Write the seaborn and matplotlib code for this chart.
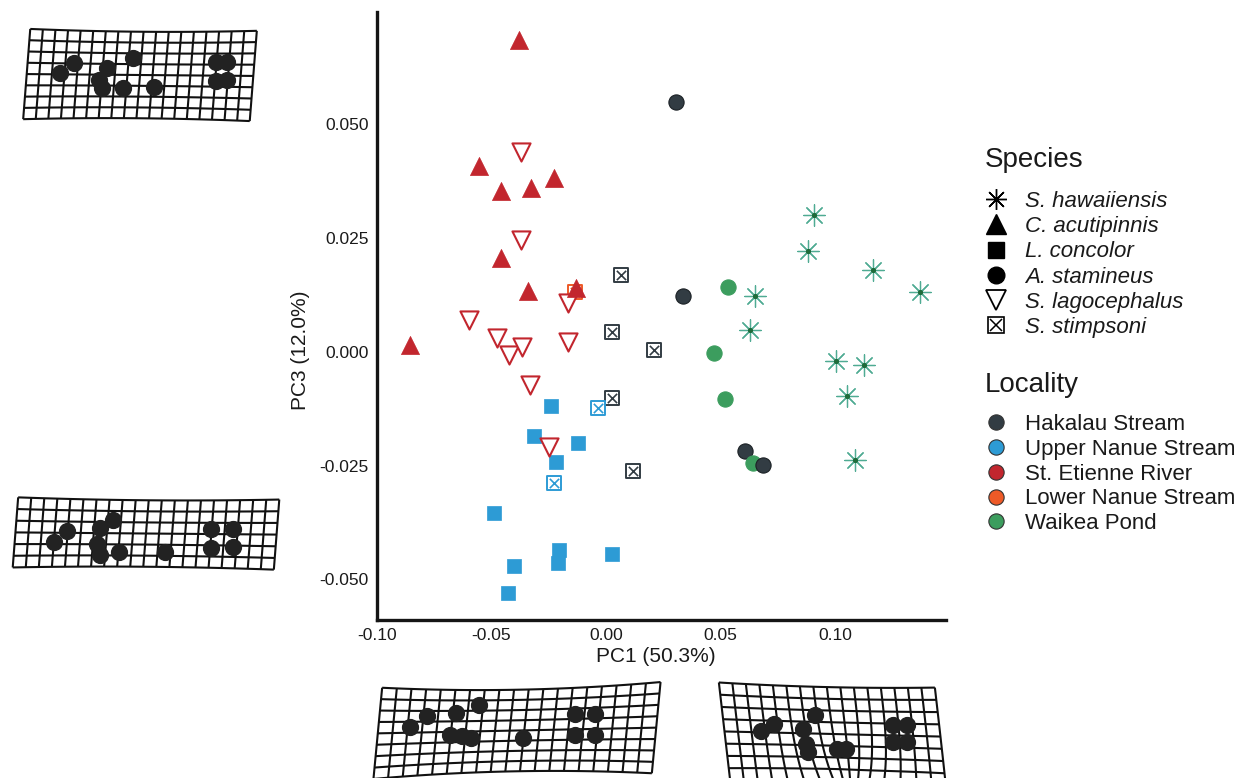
import numpy as np
import pandas as pd
import matplotlib.pyplot as plt
import seaborn as sns
from matplotlib.lines import Line2D

# PCA scores ----
pc1 = [0.0064, 0.0026, 0.0210, 0.0026, 0.0116, -0.0034, -0.0227, -0.0137,
       -0.0240, -0.0313, -0.0124, -0.0219, -0.0489, -0.0206, -0.0210, 0.0026, -0.0403, -0.0429,
       -0.0373, -0.0369, -0.0597, -0.0476, -0.0425, -0.0365, -0.0167, -0.0167, -0.0330, -0.0249,
       -0.0382, -0.0554, -0.0459, -0.0326, -0.0227, -0.0459, -0.0339, -0.0129, -0.0854,
       0.0305, 0.0335, 0.0532, 0.0472, 0.0519, 0.0609, 0.0644, 0.0687,
       0.0910, 0.0884, 0.1167, 0.0652, 0.1373, 0.0627, 0.1004, 0.1129, 0.1052, 0.1086]
pc3 = [0.0169, 0.0044, 0.0004, -0.0101, -0.0262, -0.0123, -0.0288, 0.0132,
       -0.0119, -0.0185, -0.0200, -0.0242, -0.0354, -0.0435, -0.0464, -0.0444, -0.0470, -0.0530,
       0.0440, 0.0246, 0.0070, 0.0031, -0.0007, 0.0011, 0.0108, 0.0022, -0.0073, -0.0209,
       0.0686, 0.0409, 0.0354, 0.0360, 0.0382, 0.0207, 0.0134, 0.0141, 0.0015,
       0.0549, 0.0123, 0.0143, -0.0002, -0.0103, -0.0218, -0.0244, -0.0248,
       0.0301, 0.0222, 0.0180, 0.0123, 0.0132, 0.0048, -0.0020, -0.0029, -0.0097, -0.0237]
species = (['S. stimpsoni'] * 8 + ['L. concolor'] * 10 + ['S. lagocephalus'] * 10
           + ['C. acutipinnis'] * 9 + ['A. stamineus'] * 8 + ['S. hawaiiensis'] * 10)
locality = (['Hakalau Stream'] * 5 + ['Upper Nanue Stream'] * 2 + ['Lower Nanue Stream']
            + ['Upper Nanue Stream'] * 10 + ['St. Etienne River'] * 10 + ['St. Etienne River'] * 9
            + ['Hakalau Stream', 'Hakalau Stream', 'Waikea Pond', 'Waikea Pond', 'Waikea Pond',
               'Hakalau Stream', 'Waikea Pond', 'Hakalau Stream']
            + ['Waikea Pond'] * 10)

species_order = ['S. hawaiiensis', 'C. acutipinnis', 'L. concolor',
                 'A. stamineus', 'S. lagocephalus', 'S. stimpsoni']
locality_order = ['Hakalau Stream', 'Upper Nanue Stream', 'St. Etienne River',
                  'Lower Nanue Stream', 'Waikea Pond']
loc_colors = ['#323c43', '#2d9bd5', '#c2262e', '#ee5a27', '#3c9d5e']
palette = dict(zip(locality_order, loc_colors))

# deformation grid landmarks (relative position inside each grid box)
grid1_u = [0.16, 0.22, 0.36, 0.47, 0.325, 0.34, 0.43, 0.56, 0.82, 0.87, 0.82, 0.87]
grid1_v = [0.52, 0.63, 0.57, 0.68, 0.45, 0.36, 0.36, 0.37, 0.64, 0.64, 0.44, 0.45]
grid2_u = [0.16, 0.21, 0.33, 0.38, 0.32, 0.33, 0.40, 0.57, 0.74, 0.82, 0.74, 0.82]
grid2_v = [0.39, 0.54, 0.58, 0.68, 0.35, 0.21, 0.25, 0.25, 0.56, 0.56, 0.30, 0.32]
grid3_u = [0.13, 0.19, 0.29, 0.37, 0.27, 0.31, 0.34, 0.52, 0.70, 0.77, 0.70, 0.77]
grid3_v = [0.54, 0.65, 0.68, 0.77, 0.45, 0.44, 0.42, 0.42, 0.67, 0.67, 0.45, 0.45]
grid4_u = [0.18, 0.24, 0.42, 0.37, 0.38, 0.39, 0.52, 0.56, 0.77, 0.83, 0.77, 0.83]
grid4_v = [0.53, 0.60, 0.69, 0.55, 0.40, 0.32, 0.35, 0.35, 0.59, 0.59, 0.42, 0.42]

df = pd.DataFrame({'PC1': pc1, 'PC3': pc3, 'species': species, 'locality': locality})

sns.set_theme(style='white')
plt.rcParams['font.family'] = ['Liberation Sans', 'DejaVu Sans']

W, H = 1243, 778
fig = plt.figure(figsize=(W / 100, H / 100), dpi=100)
ax = fig.add_axes([377 / W, 1 - 620 / H, (946 - 377) / W, (620 - 12) / H])

# marker style for each species
styles = {
    'S. stimpsoni': dict(marker='s', s=110, fill=False, lw=1.4),
    'L. concolor': dict(marker='s', s=100, fill=True, lw=0.5),
    'S. lagocephalus': dict(marker='v', s=170, fill=False, lw=1.5),
    'C. acutipinnis': dict(marker='^', s=170, fill=True, lw=0.5),
    'A. stamineus': dict(marker='o', s=120, fill=True, lw=0.8),
    'S. hawaiiensis': dict(marker=(8, 2, 0), s=240, fill=True, lw=0.9),
}
star_color = '#4fab93'

for sp in ['S. stimpsoni', 'L. concolor', 'S. lagocephalus', 'C. acutipinnis',
           'A. stamineus', 'S. hawaiiensis']:
    st = styles[sp]
    sub = df[df['species'] == sp]
    for idx, row in sub.iterrows():
        col = palette[row['locality']]
        one = sub.loc[[idx]]
        if sp == 'S. hawaiiensis':
            sns.scatterplot(data=one, x='PC1', y='PC3', marker=st['marker'], s=st['s'],
                            color=star_color, linewidth=st['lw'], ax=ax, legend=False, zorder=3)
            sns.scatterplot(data=one, x='PC1', y='PC3', marker='o', s=14,
                            color='#1f6b3a', linewidth=0, ax=ax, legend=False, zorder=4)
        elif sp == 'S. stimpsoni':
            sns.scatterplot(data=one, x='PC1', y='PC3', marker='s', s=st['s'],
                            facecolor='white', edgecolor=col, linewidth=st['lw'],
                            ax=ax, legend=False, zorder=2)
            sns.scatterplot(data=one, x='PC1', y='PC3', marker='x', s=45,
                            color=col, linewidth=1.2, ax=ax, legend=False, zorder=2)
        elif not st['fill']:
            sns.scatterplot(data=one, x='PC1', y='PC3', marker=st['marker'], s=st['s'],
                            facecolor='white', edgecolor=col, linewidth=st['lw'],
                            ax=ax, legend=False, zorder=3)
        else:
            edge = '#1b2125' if row['locality'] == 'Hakalau Stream' else col
            sns.scatterplot(data=one, x='PC1', y='PC3', marker=st['marker'], s=st['s'],
                            color=col, edgecolor=edge, linewidth=st['lw'],
                            ax=ax, legend=False, zorder=3)

ax.set_xlim(-0.0957, 0.1485)
ax.set_ylim(-0.0589, 0.0747)
ax.set_xticks([-0.10, -0.05, 0.00, 0.05, 0.10])
ax.set_xticklabels(['-0.10', '-0.05', '0.00', '0.05', '0.10'])
ax.set_yticks([-0.050, -0.025, 0.000, 0.025, 0.050])
ax.set_yticklabels(['-0.050', '-0.025', '0.000', '0.025', '0.050'])
ax.tick_params(axis='both', labelsize=12.5, length=0, pad=6, colors='#1a1a1a')
ax.set_xlabel('PC1 (50.3%)', fontsize=15, color='#1a1a1a')
ax.set_ylabel('PC3 (12.0%)', fontsize=15, color='#1a1a1a')
ax.xaxis.set_label_coords(0.49, -0.045)
ax.yaxis.set_label_coords(-0.118, 0.444)
for side in ['top', 'right']:
    ax.spines[side].set_visible(False)
for side in ['left', 'bottom']:
    ax.spines[side].set_linewidth(2.4)
    ax.spines[side].set_color('#151515')
ax.set_facecolor('white')

# legends ----
k = 'black'
sp_handles = [
    Line2D([], [], ls='', marker=(8, 2, 0), ms=15, mec=k, mew=1.0),
    Line2D([], [], ls='', marker='^', ms=14, mfc=k, mec=k),
    Line2D([], [], ls='', marker='s', ms=11, mfc=k, mec=k),
    Line2D([], [], ls='', marker='o', ms=12, mfc=k, mec=k),
    Line2D([], [], ls='', marker='v', ms=14, mfc='white', mec=k, mew=1.3),
    (Line2D([], [], ls='', marker='s', ms=12, mfc='white', mec=k, mew=1.2),
     Line2D([], [], ls='', marker='x', ms=8, mec=k, mew=1.1)),
]
fig.text(985 / W, 1 - 160 / H, 'Species', fontsize=20, va='center', ha='left', color='#1a1a1a')
leg1 = ax.legend(sp_handles, species_order, loc='upper left',
                 bbox_to_anchor=(984 / W, 1 - 191 / H), bbox_transform=fig.transFigure,
                 frameon=False, prop={'style': 'italic', 'size': 16},
                 labelspacing=0.19, handlelength=1.1, handletextpad=0.75,
                 borderaxespad=0, borderpad=0)
for t in leg1.get_texts():
    t.set_color('#1a1a1a')
ax.add_artist(leg1)

loc_handles = [Line2D([], [], ls='', marker='o', ms=11, mfc=c, mec='#333333', mew=0.8)
               for c in loc_colors]
fig.text(985 / W, 1 - 385 / H, 'Locality', fontsize=20, va='center', ha='left', color='#1a1a1a')
leg2 = ax.legend(loc_handles, locality_order, loc='upper left',
                 bbox_to_anchor=(984 / W, 1 - 414 / H), bbox_transform=fig.transFigure,
                 frameon=False, prop={'size': 16},
                 labelspacing=0.17, handlelength=1.1, handletextpad=0.75,
                 borderaxespad=0, borderpad=0)
for t in leg2.get_texts():
    t.set_color('#1a1a1a')


# deformation grids ----
def draw_grid(box, ncols, nrows, lm_u, lm_v, shx=0.0, shy=0.0, bend=0.0, pinch=0.0):
    l, t, r, b = box
    gax = fig.add_axes([l / W, 1 - b / H, (r - l) / W, (b - t) / H])
    gax.set_xlim(0, 1)
    gax.set_ylim(0, 1)
    gax.axis('off')
    s = np.linspace(0, 1, 120)

    def warp(u, v):
        x = (0.02 + 0.96 * u + shx * (v - 0.5)
             + pinch * (1 - v) ** 3 * (0.55 - u) * np.exp(-((u - 0.55) / 0.2) ** 2))
        y = 0.02 + 0.96 * v + shy * (u - 0.5) + bend * 4 * u * (1 - u) * (0.5 - v)
        return x, y

    for i in range(nrows + 1):
        x, y = warp(s, np.full_like(s, i / nrows))
        gax.plot(x, y, color='#111111', lw=1.5, clip_on=False, solid_capstyle='butt')
    for j in range(ncols + 1):
        x, y = warp(np.full_like(s, j / ncols), s)
        gax.plot(x, y, color='#111111', lw=1.5, clip_on=False, solid_capstyle='butt')
    gax.scatter(lm_u, lm_v, s=130, color='#222222', zorder=3, clip_on=False)


draw_grid((22, 28, 258, 122), 18, 8, grid1_u, grid1_v, shx=0.03, shy=-0.02, bend=0.04)
draw_grid((10, 497, 282, 570), 20, 6, grid2_u, grid2_v, shx=0.02, shy=-0.03, bend=0.05)
draw_grid((372, 683, 662, 778), 19, 8, grid3_u, grid3_v, shx=0.03, shy=0.06, bend=0.10)
draw_grid((720, 683, 945, 785), 16, 8, grid4_u, grid4_v, shx=-0.05, shy=-0.05, bend=0.04,
          pinch=0.5)

fig.savefig('out.png', dpi=100, facecolor='white')
